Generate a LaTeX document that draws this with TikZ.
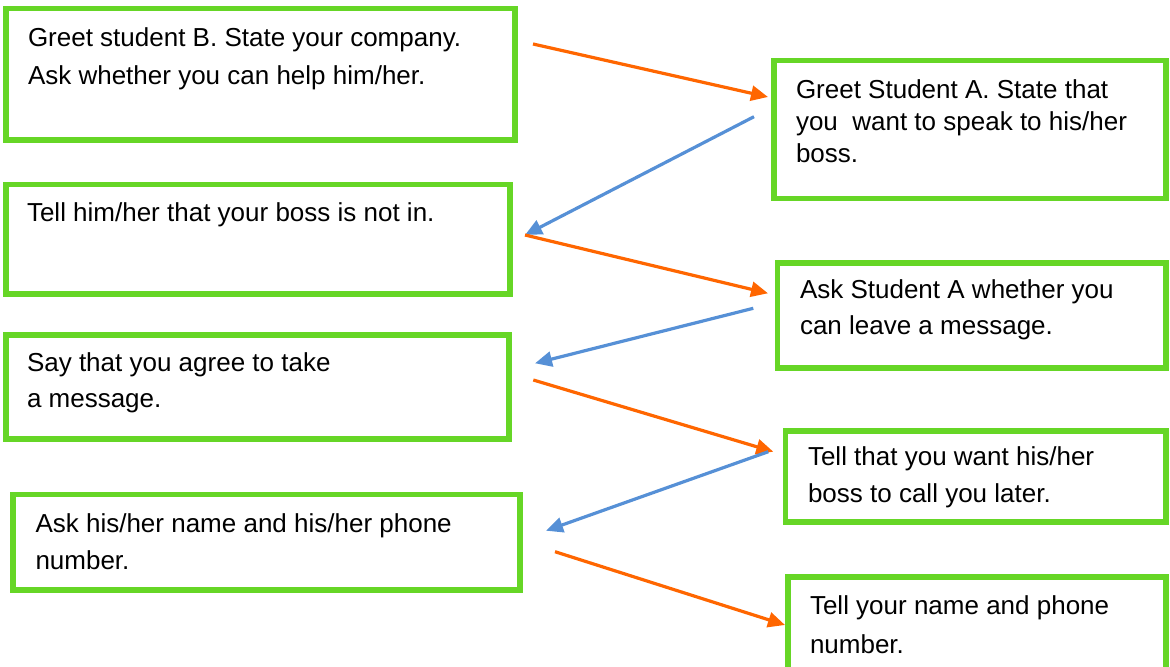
\documentclass[tikz,border=0pt]{standalone}
\usepackage{fontspec}
\setmainfont{Liberation Sans}
\usetikzlibrary{fit,arrows.meta}
\definecolor{boxgreen}{RGB}{102,214,38}
\definecolor{arrorange}{RGB}{255,102,0}
\definecolor{arrblue}{RGB}{86,144,214}
\tikzset{
  box/.style={draw=boxgreen, line width=2.8pt, inner sep=0pt, outer sep=0pt, fill=white},
  txt/.style={anchor=north west, inner sep=0pt, outer sep=0pt, align=left, font={\fontsize{13}{18}\selectfont}},
  fwd/.style={draw=arrorange, line width=1.6pt, -{Triangle[length=8.5pt,width=7.5pt]}},
  back/.style={draw=arrblue, line width=1.6pt, -{Triangle[length=8.5pt,width=7.5pt]}}
}
\begin{document}
\begin{tikzpicture}[x=0.5pt,y=-0.5pt]
\useasboundingbox (0,0) rectangle (1170,667);
\clip (0,0) rectangle (1170,667);
% left boxes
\node[box, fit={(6,8.5) (515,140)}] (L1) {};
\node[box, fit={(6,184.5) (510,294)}] (L2) {};
\node[box, fit={(6,335) (509,439)}] (L3) {};
\node[box, fit={(13,494.5) (520,590)}] (L4) {};
% right boxes
\node[box, fit={(774,60.5) (1166,198.5)}] (R1) {};
\node[box, fit={(777.5,263) (1166,368)}] (R2) {};
\node[box, fit={(785.5,431) (1166,522)}] (R3) {};
\node[box, fit={(788,577) (1166,700)}] (R4) {};
% texts
\node[txt, font={\fontsize{13}{19}\selectfont}] (L1t) at (28,27.5) {Greet student B. State your company.\\Ask whether you can help him/her.};
\node[txt, font={\fontsize{13}{16}\selectfont}] (R1t) at (796,79.5) {Greet Student A. State that\\you\ \ want to speak to his/her\\boss.};
\node[txt] (L2t) at (27,203) {Tell him/her that your boss is not in.};
\node[txt] (R2t) at (800,280) {Ask Student A whether you\\can leave a message.};
\node[txt] (L3t) at (27,353) {Say that you agree to take\\a message.};
\node[txt, font={\fontsize{13}{18.5}\selectfont}] (R3t) at (808,447) {Tell that you want his/her\\boss to call you later.};
\node[txt, font={\fontsize{13}{18.5}\selectfont}] (L4t) at (35.5,514) {Ask his/her name and his/her phone\\number.};
\node[txt, font={\fontsize{13}{19.5}\selectfont}] (R4t) at (810,596) {Tell your name and phone\\number.};
% arrow end points
\coordinate (a1s) at (533,44);
\coordinate (a1e) at (768,97);
\coordinate (b1s) at (754,116.7);
\coordinate (b1e) at (525,235);
\coordinate (a2s) at (525,235);
\coordinate (a2e) at (768,293.3);
\coordinate (b2s) at (753.3,308.3);
\coordinate (b2e) at (535,363.3);
\coordinate (a3s) at (533.3,380);
\coordinate (a3e) at (773.3,451.7);
\coordinate (b3s) at (768.3,451.7);
\coordinate (b3e) at (546,530.7);
\coordinate (a4s) at (555,551.7);
\coordinate (a4e) at (785,625);
% arrows
\draw[fwd] (a1s) -- (a1e);
\draw[back] (b1s) -- (b1e);
\draw[fwd] (a2s) -- (a2e);
\draw[back] (b2s) -- (b2e);
\draw[fwd] (a3s) -- (a3e);
\draw[back] (b3s) -- (b3e);
\draw[fwd] (a4s) -- (a4e);
\end{tikzpicture}
\end{document}
